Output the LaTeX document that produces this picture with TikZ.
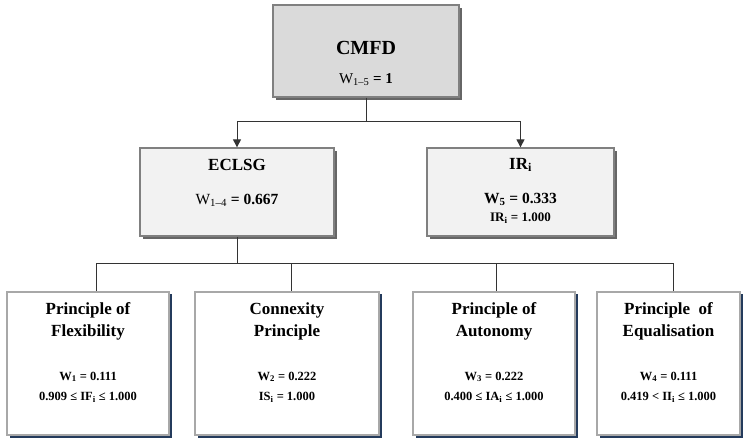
\documentclass[tikz,border=0pt]{standalone}
\usepackage{fontspec}
\setmainfont{Liberation Serif}
\usetikzlibrary{shadows,arrows.meta}
\definecolor{cmfdfill}{HTML}{DADADA}
\definecolor{midfill}{HTML}{F2F2F2}
\definecolor{boxline}{HTML}{808080}
\definecolor{greyshadow}{HTML}{666666}
\definecolor{lowline}{HTML}{A8A8A8}
\definecolor{navyshadow}{HTML}{243B5C}
\definecolor{conn}{HTML}{333333}
\newcommand\lowsub[1]{\textsubscript{#1}}
\begin{document}
\begin{tikzpicture}[x=1pt,y=-1pt,
  topbox/.style={draw=boxline, fill=cmfdfill, line width=1.3pt, inner sep=0pt,
    drop shadow={shadow xshift=3pt, shadow yshift=-3pt, fill=greyshadow, opacity=1}},
  midbox/.style={draw=boxline, fill=midfill, line width=1.3pt, inner sep=0pt,
    drop shadow={shadow xshift=3pt, shadow yshift=-3pt, fill=greyshadow, opacity=1}},
  lowbox/.style={draw=lowline, fill=white, line width=1.8pt, inner sep=0pt,
    minimum height=143,
    drop shadow={shadow xshift=2.5pt, shadow yshift=-2.5pt, fill=navyshadow, opacity=1}},
  txt/.style={inner sep=0pt, align=center},
  link/.style={draw=conn, line width=1pt},
  arr/.style={link, -{Triangle[length=8pt,width=8pt]}}
]
\useasboundingbox (0,0) rectangle (750,438);
\fill[white] (0,0) rectangle (750,438);

% boxes
\node[topbox, minimum width=186, minimum height=92] (cmfd) at (366,51) {};
\node[midbox, minimum width=194, minimum height=88] (eclsg) at (237,192) {};
\node[midbox, minimum width=187, minimum height=88] (ir) at (520.5,192) {};
\node[lowbox, minimum width=162] (b1) at (88,363.5) {};
\node[lowbox, minimum width=184] (b2) at (287,363.5) {};
\node[lowbox, minimum width=162] (b3) at (494,363.5) {};
\node[lowbox, minimum width=143] (b4) at (668.5,363.5) {};

% texts
\node[txt, font=\fontsize{20}{22}\selectfont\bfseries] (tcmfd) at (366,48) {CMFD};
\node[txt, font=\fontsize{15}{17}\selectfont] (wcmfd) at (366,80) {W\lowsub{1--5} \textbf{= 1}};

\node[txt, font=\fontsize{17}{19}\selectfont\bfseries] (teclsg) at (237,165) {ECLSG};
\node[txt, font=\fontsize{15.5}{17}\selectfont] (weclsg) at (237,200) {W\lowsub{1--4} \textbf{= 0.667}};

\node[txt, font=\fontsize{17}{19}\selectfont\bfseries] (tir) at (520.5,165) {IR\lowsub{i}};
\node[txt, font=\fontsize{15.5}{17}\selectfont\bfseries] (wir) at (520.5,199) {W\lowsub{5} = 0.333};
\node[txt, font=\fontsize{13}{15}\selectfont\bfseries] (vir) at (520.5,218) {IR\lowsub{i} = 1.000};

\node[txt, font=\fontsize{17}{22}\selectfont\bfseries] (t1) at (88,321) {Principle of\\Flexibility};
\node[txt, font=\fontsize{12.5}{20}\selectfont\bfseries] (v1) at (88,387) {W\lowsub{1} = 0.111\\0.909 ≤ IF\lowsub{i} ≤ 1.000};

\node[txt, font=\fontsize{17}{22}\selectfont\bfseries] (t2) at (287,321) {Connexity\\Principle};
\node[txt, font=\fontsize{12.5}{20}\selectfont\bfseries] (v2) at (287,387) {W\lowsub{2} = 0.222\\IS\lowsub{i} = 1.000};

\node[txt, font=\fontsize{17}{22}\selectfont\bfseries] (t3) at (494,321) {Principle of\\Autonomy};
\node[txt, font=\fontsize{12.5}{20}\selectfont\bfseries] (v3) at (494,387) {W\lowsub{3} = 0.222\\0.400 ≤ IA\lowsub{i} ≤ 1.000};

\node[txt, font=\fontsize{17}{22}\selectfont\bfseries] (t4) at (668.5,321) {Principle\ \ of\\Equalisation};
\node[txt, font=\fontsize{12.5}{20}\selectfont\bfseries] (v4) at (668.5,387) {W\lowsub{4} = 0.111\\0.419 < II\lowsub{i} ≤ 1.000};

% connectors
\coordinate (j1) at (366,122);
\coordinate (j2) at (237,264);
\draw[link] (cmfd.south) -- (j1);
\draw[arr] (j1) -| (eclsg.north);
\draw[arr] (j1) -| (ir.north);
\draw[link] (eclsg.south) -- (j2);
\draw[link] (j2) -| ([xshift=8pt]b1.north);
\draw[link] (j2) -| ([xshift=4pt]b2.north);
\draw[link] (j2) -| ([xshift=2pt]b3.north);
\draw[link] (j2) -| ([xshift=4.5pt]b4.north);
\end{tikzpicture}
\end{document}
